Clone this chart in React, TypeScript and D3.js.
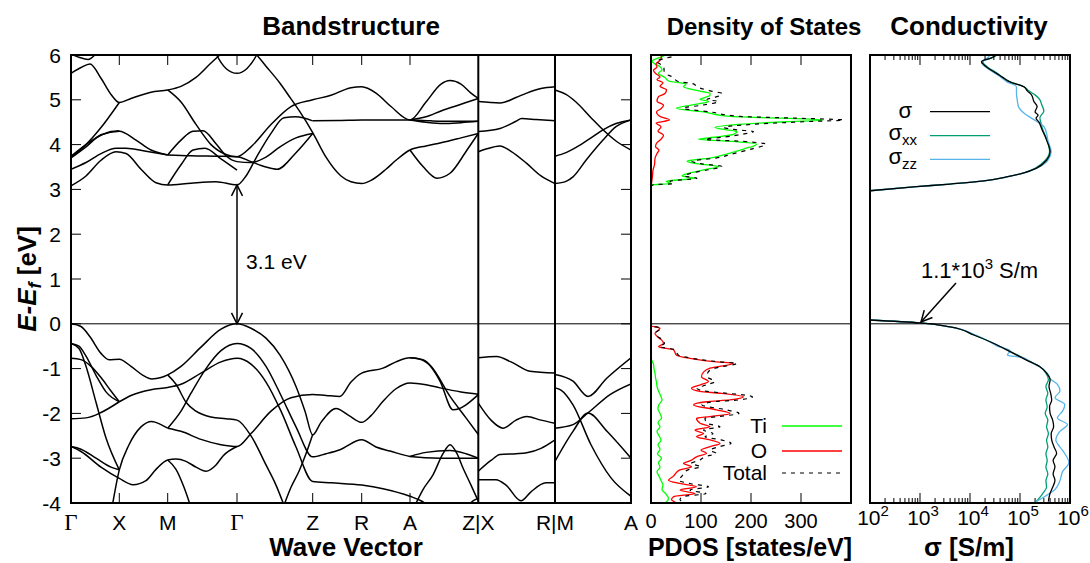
import React from "react";
import * as d3 from "d3";

const FONT = "'Liberation Sans', Arial, Helvetica, sans-serif";
const SERIF = "'Liberation Serif', 'Times New Roman', serif";

// ---------- axes data ----------
const kTicks = [0, 0.483, 0.967, 1.66, 2.417, 2.907, 3.39, 4.073, 4.84, 5.6];
const kLabels = ["Γ", "X", "M", "Γ", "Z", "R", "A", "Z|X", "R|M", "A"];
const kInnerTicks = [0.483, 0.967, 1.66, 2.417, 2.907, 3.39];
const kSeparators = [4.073, 4.84];
const eTicks = [-4, -3, -2, -1, 0, 1, 2, 3, 4, 5, 6];
const dosTicks = [0, 100, 200, 300];
const sigmaDecades = [2, 3, 4, 5, 6];

// ---------- band structure (k, E[eV]) ----------
const conductionBands: number[][][] = [
  [[0,5.59],[0.1,5.72],[0.19,5.8],[0.3,5.48],[0.4,5.12],[0.483,4.94],[0.6,5.03],[0.8,5.17],[0.967,5.22],[1.1,5.3],[1.25,5.5],[1.4,5.82],[1.55,6.12],[1.66,6.3],[1.76,6.2],[1.857,6.0],[1.95,5.75],[2.09,5.37],[2.2,5.02],[2.29,4.73],[2.417,4.27],[2.55,3.72],[2.7,3.3],[2.8,3.17],[2.907,3.13],[3.0,3.2],[3.15,3.45],[3.25,3.65],[3.39,3.88],[3.55,3.97],[3.7,4.04],[3.9,4.15],[4.073,4.25]],
  [[0,6.02],[0.08,5.95],[0.17,5.9],[0.26,6.05],[0.32,6.2]],
  [[1.4,6.3],[1.457,6.0],[1.55,5.7],[1.66,5.59],[1.76,5.7],[1.857,6.0],[1.92,6.3]],
  [[0,3.72],[0.15,4.0],[0.3,4.38],[0.483,4.94]],
  [[0.967,5.22],[1.1,4.95],[1.25,4.45],[1.4,4.0],[1.55,3.78],[1.66,3.73],[1.8,3.95],[2.0,4.45],[2.2,4.85],[2.417,5.0],[2.6,5.1],[2.8,5.27],[2.907,5.29],[3.05,5.15],[3.2,4.85],[3.39,4.55],[3.55,4.95],[3.7,5.35],[3.79,5.43],[3.9,5.35],[4.0,5.15],[4.073,5.03]],
  [[3.39,4.55],[3.55,4.62],[3.7,4.75],[3.9,4.9],[4.073,5.03]],
  [[2.417,4.53],[2.7,4.54],[2.907,4.55],[3.2,4.55],[3.39,4.55],[3.6,4.53],[3.8,4.52],[4.073,4.52]],
  [[3.39,4.55],[3.55,4.5],[3.72,4.47],[3.9,4.49],[4.073,4.52]],
  [[3.39,3.88],[3.52,3.51],[3.66,3.25],[3.79,3.36],[3.96,3.88],[4.073,4.25]],
  [[0,3.08],[0.15,3.3],[0.3,3.65],[0.45,3.84],[0.55,3.8],[0.7,3.45],[0.85,3.15],[0.967,3.1],[1.2,3.14],[1.45,3.17],[1.66,3.1],[1.75,3.3],[1.85,3.7],[2.0,4.25],[2.13,4.6],[2.25,4.62],[2.417,4.53]],
  [[0,3.7],[0.15,3.95],[0.3,4.22],[0.483,4.3],[0.65,4.1],[0.8,3.88],[0.967,3.77]],
  [[0,3.74],[0.2,4.08],[0.4,4.29],[0.483,4.31]],
  [[0,3.45],[0.15,3.6],[0.3,3.8],[0.45,3.92],[0.55,3.92],[0.75,3.85],[0.967,3.77]],
  [[0.967,3.77],[1.2,3.75],[1.45,3.74],[1.66,3.73],[1.8,3.62],[1.95,3.5],[2.06,3.45],[2.25,3.82],[2.417,4.25]],
  [[0.967,3.77],[1.1,4.1],[1.22,4.3],[1.32,4.31],[1.45,4.02],[1.55,3.75],[1.66,3.62],[1.8,3.6],[1.95,3.72],[2.09,3.95],[2.25,4.15],[2.417,4.25]],
  [[0.967,3.1],[1.1,3.55],[1.22,3.88],[1.34,3.92],[1.5,3.68],[1.66,3.43]],
  [[4.073,4.96],[4.29,4.93],[4.45,5.05],[4.557,5.15],[4.7,5.25],[4.84,5.29]],
  [[4.073,4.29],[4.29,4.36],[4.45,4.52],[4.507,4.58],[4.65,4.56],[4.84,4.53]],
  [[4.073,3.84],[4.15,3.9],[4.29,3.97],[4.4,3.85],[4.557,3.58],[4.7,3.3],[4.84,3.13]],
  [[4.84,5.22],[4.95,5.12],[5.05,4.95],[5.2,4.6],[5.32,4.33],[5.45,4.08],[5.6,3.88]],
  [[4.84,3.74],[4.95,3.82],[5.09,3.99],[5.2,4.15],[5.32,4.33],[5.45,4.47],[5.6,4.55]],
  [[4.84,3.13],[4.95,3.18],[5.02,3.28],[5.15,3.65],[5.32,4.1],[5.45,4.4],[5.6,4.55]],
];

const valenceBands: number[][][] = [
  [[0,0],[0.1,-0.06],[0.19,-0.29],[0.3,-0.66],[0.38,-0.8],[0.483,-0.79],[0.6,-0.95],[0.72,-1.15],[0.807,-1.23],[0.9,-1.2],[0.967,-1.14],[1.1,-0.95],[1.3,-0.52],[1.5,-0.12],[1.66,0],[1.8,-0.1],[1.95,-0.32],[2.09,-0.7],[2.25,-1.4],[2.34,-1.95],[2.417,-2.48],[2.5,-2.2],[2.65,-1.89],[2.78,-2.05],[2.907,-2.2],[3.0,-2.05],[3.12,-1.73],[3.25,-1.45],[3.39,-1.32],[3.55,-1.36],[3.69,-1.43],[3.9,-1.52],[4.073,-1.57]],
  [[0.967,-2.33],[1.1,-1.95],[1.2,-1.55],[1.35,-1.0],[1.5,-0.6],[1.66,-0.44],[1.8,-0.55],[1.95,-0.95],[2.1,-1.6],[2.25,-2.3],[2.417,-2.97],[2.55,-2.9],[2.69,-2.81],[2.907,-2.59],[3.05,-2.75],[3.19,-2.84],[3.39,-2.96],[3.69,-3.0],[4.073,-3.0]],
  [[0.483,-1.74],[0.6,-1.6],[0.8,-1.47],[0.967,-1.42],[1.1,-1.35],[1.3,-1.1],[1.5,-0.85],[1.66,-0.77],[1.8,-0.9],[1.95,-1.3],[2.1,-1.95],[2.25,-2.75],[2.417,-3.52],[2.6,-3.55],[2.907,-3.6],[3.12,-3.68],[3.39,-3.85],[3.5,-3.95],[3.6,-4.1]],
  [[0,-0.44],[0.08,-0.5],[0.15,-0.72],[0.25,-1.15],[0.35,-1.52],[0.483,-1.74]],
  [[0,-0.77],[0.1,-0.8],[0.2,-0.95],[0.3,-1.2],[0.4,-1.5],[0.483,-1.74]],
  [[0,-0.44],[0.08,-0.55],[0.15,-0.95],[0.25,-1.75],[0.35,-2.55],[0.483,-3.26]],
  [[0.41,-4.1],[0.483,-3.26],[0.58,-2.7],[0.7,-2.3],[0.807,-2.18],[0.9,-2.25],[0.967,-2.33]],
  [[0,-2.12],[0.15,-2.1],[0.3,-1.98],[0.483,-1.74]],
  [[0.967,-2.33],[1.1,-2.4],[1.3,-2.58],[1.5,-2.7],[1.66,-2.74],[1.8,-2.45],[2.0,-1.95],[2.2,-1.65],[2.417,-1.58],[2.55,-1.6],[2.69,-1.62],[2.8,-1.3],[2.907,-1.1],[3.12,-0.99],[3.25,-0.85],[3.39,-0.76],[3.52,-0.8],[3.69,-1.28],[3.82,-1.92],[4.073,-1.58]],
  [[3.39,-0.76],[3.5,-0.8],[3.6,-0.95],[3.79,-1.62],[3.95,-2.1],[4.073,-2.47]],
  [[0.967,-1.14],[1.05,-1.35],[1.15,-1.75],[1.25,-1.95],[1.4,-2.08],[1.55,-2.12],[1.66,-2.15],[1.8,-2.5],[1.95,-3.15],[2.05,-3.6],[2.13,-4.05]],
  [[2.13,-4.05],[2.2,-3.65],[2.28,-3.29],[2.35,-2.9],[2.417,-2.47]],
  [[0,-2.74],[0.1,-2.8],[0.25,-3.0],[0.4,-3.2],[0.483,-3.26]],
  [[0,-2.74],[0.1,-2.85],[0.3,-3.2],[0.483,-3.45],[0.62,-3.59],[0.75,-3.5],[0.85,-3.25],[0.967,-3.04],[1.05,-3.02],[1.15,-3.07],[1.25,-3.2],[1.35,-3.29],[1.45,-3.15],[1.52,-2.95],[1.66,-2.74]],
  [[0.967,-3.04],[1.05,-3.25],[1.13,-3.65],[1.2,-4.1]],
  [[3.43,-4.1],[3.52,-3.7],[3.62,-3.37],[3.72,-2.9],[3.79,-2.7],[3.86,-2.9],[3.92,-3.22],[4.0,-3.6],[4.073,-3.96]],
  [[3.39,-2.96],[3.55,-2.87],[3.79,-2.83],[3.95,-2.9],[4.073,-3.0]],
  [[3.95,-4.1],[4.02,-3.95],[4.073,-3.9]],
  [[4.073,-0.76],[4.257,-0.73],[4.4,-0.85],[4.59,-1.06],[4.84,-1.1]],
  [[4.073,-1.77],[4.2,-2.15],[4.32,-2.33],[4.45,-2.15],[4.557,-2.07],[4.7,-2.15],[4.84,-2.22]],
  [[4.073,-3.29],[4.2,-3.05],[4.29,-2.92],[4.45,-2.9],[4.557,-2.88],[4.7,-2.78],[4.84,-2.59]],
  [[4.073,-3.48],[4.25,-3.48],[4.35,-3.6],[4.5,-3.95],[4.6,-3.75],[4.75,-3.55],[4.84,-3.55]],
  [[4.84,-1.13],[5.02,-1.28],[5.17,-1.62],[5.36,-1.21],[5.6,-0.76]],
  [[4.84,-1.43],[4.9,-1.48],[5.02,-1.81],[5.2,-2.7],[5.4,-3.44],[5.6,-3.85]],
  [[4.84,-2.33],[5.02,-2.25],[5.17,-1.99],[5.39,-1.58],[5.6,-1.34]],
  [[4.84,-3.07],[5.02,-2.4],[5.17,-1.99],[5.36,-2.4],[5.6,-3.0]],
];

// ---------- PDOS (E[eV], states/eV) ----------
const dosTi: number[][] = [
  [-4.05,12],[-4.0,28],[-3.9,35],[-3.8,30],[-3.7,22],[-3.6,24],[-3.5,20],[-3.4,16],[-3.3,12],[-3.2,18],[-3.1,15],[-3.0,21],[-2.9,13],[-2.8,18],[-2.7,14],[-2.6,20],[-2.5,16],[-2.4,12],[-2.3,18],[-2.2,14],[-2.1,21],[-2.0,18],[-1.9,14],[-1.8,16],[-1.7,22],[-1.6,19],[-1.5,15],[-1.4,12],[-1.3,11],[-1.2,9],[-1.1,8],[-1.0,6],[-0.9,5],[-0.8,1],[-0.7,0],[0.05,0],
  [3.05,0],[3.1,2],[3.13,40],[3.18,30],[3.25,88],[3.3,62],[3.36,75],[3.44,108],[3.51,135],[3.57,95],[3.63,72],[3.7,118],[3.79,151],[3.9,185],[4.01,211],[4.07,165],[4.12,95],[4.17,130],[4.23,165],[4.29,172],[4.33,150],[4.38,128],[4.45,175],[4.51,270],[4.55,345],[4.59,260],[4.63,158],[4.73,105],[4.81,51],[4.88,80],[4.96,115],[5.01,98],[5.05,108],[5.1,118],[5.14,118],[5.2,96],[5.29,65],[5.35,70],[5.42,35],[5.5,28],[5.59,15],[5.67,22],[5.74,18],[5.8,8],[5.86,2],[5.93,14],[5.98,25],[6.05,10],
];
const dosO: number[][] = [
  [-4.05,45],[-4.0,50],[-3.93,41],[-3.86,45],[-3.79,88],[-3.71,58],[-3.64,91],[-3.57,60],[-3.49,35],[-3.4,45],[-3.33,50],[-3.26,58],[-3.19,81],[-3.12,65],[-3.05,80],[-2.97,91],[-2.89,111],[-2.82,100],[-2.74,118],[-2.67,138],[-2.59,118],[-2.52,91],[-2.45,105],[-2.37,88],[-2.3,118],[-2.22,98],[-2.11,91],[-2.07,118],[-2.0,158],[-1.92,131],[-1.81,85],[-1.74,111],[-1.7,158],[-1.63,185],[-1.55,138],[-1.51,98],[-1.44,81],[-1.36,100],[-1.29,115],[-1.18,101],[-1.08,105],[-0.99,118],[-0.88,165],[-0.85,131],[-0.77,78],[-0.7,51],[-0.58,45],[-0.51,15],[-0.44,25],[-0.36,21],[-0.28,12],[-0.21,8],[-0.1,18],[-0.04,0],[0.05,0],
  [3.05,0],[3.13,1],[3.3,3],[3.43,4],[3.55,7],[3.69,8],[3.8,12],[3.88,16],[3.95,9],[4.03,11],[4.12,20],[4.21,25],[4.3,14],[4.4,20],[4.48,10],[4.55,37],[4.62,20],[4.73,11],[4.8,20],[4.88,25],[4.97,12],[5.07,15],[5.14,28],[5.22,31],[5.3,18],[5.38,24],[5.45,12],[5.51,18],[5.58,10],[5.66,5],[5.73,12],[5.8,10],[5.88,18],[5.96,21],[6.05,10],
];
const dosTotal: number[][] = [
  [-4.05,60],[-4.0,68],[-3.93,58],[-3.86,62],[-3.79,110],[-3.71,78],[-3.64,115],[-3.57,80],[-3.49,55],[-3.4,62],[-3.33,66],[-3.26,74],[-3.19,100],[-3.12,80],[-3.05,96],[-2.97,108],[-2.89,130],[-2.82,118],[-2.74,138],[-2.67,160],[-2.59,140],[-2.52,108],[-2.45,124],[-2.37,105],[-2.3,138],[-2.22,112],[-2.11,108],[-2.07,135],[-2.0,176],[-1.92,150],[-1.81,102],[-1.74,125],[-1.7,175],[-1.63,203],[-1.55,152],[-1.51,112],[-1.44,92],[-1.36,112],[-1.29,128],[-1.18,112],[-1.08,114],[-0.99,128],[-0.88,172],[-0.85,138],[-0.77,82],[-0.7,55],[-0.58,48],[-0.51,17],[-0.44,27],[-0.36,23],[-0.28,13],[-0.21,9],[-0.1,20],[-0.04,1],[0.05,0],
  [3.05,0],[3.1,3],[3.13,45],[3.18,38],[3.25,92],[3.3,66],[3.36,80],[3.44,116],[3.51,142],[3.57,102],[3.63,82],[3.7,130],[3.79,162],[3.9,200],[4.01,230],[4.07,185],[4.12,108],[4.17,148],[4.23,182],[4.29,205],[4.33,172],[4.38,146],[4.45,200],[4.51,305],[4.55,385],[4.59,290],[4.63,178],[4.73,118],[4.81,64],[4.88,102],[4.96,135],[5.01,112],[5.05,125],[5.1,140],[5.14,142],[5.2,118],[5.29,92],[5.35,86],[5.42,52],[5.5,45],[5.59,28],[5.67,26],[5.74,26],[5.8,18],[5.86,10],[5.93,30],[5.98,45],[6.05,20],
];

// ---------- conductivity (E[eV], sigma [S/m]) ----------
const sigmaTotalCB: number[][] = [
  [2.97,1.0e2],[3.06,8.5e2],[3.12,4.0e3],[3.19,1.9e4],[3.28,5.4e4],[3.37,1.2e5],[3.47,2.1e5],[3.65,3.4e5],[3.84,4.0e5],[4.1,3.4e5],[4.36,2.7e5],[4.5,2.4e5],[4.59,2.1e5],[4.66,2.3e5],[4.73,2.0e5],[4.85,2.2e5],[4.96,1.9e5],[5.11,1.7e5],[5.2,1.4e5],[5.29,1.2e5],[5.4,6.3e4],[5.5,4.5e4],[5.59,3.4e4],[5.74,2.1e4],[5.85,1.7e4],[5.93,2.6e4],[6.0,3.4e4],
];
const sigmaTotalVB: number[][] = [
  [0.085,1.0e2],[0.02,1.0e3],[-0.07,4.0e3],[-0.25,1.2e4],[-0.44,3.0e4],[-0.62,6.3e4],[-0.81,1.35e5],[-0.96,2.5e5],[-1.1,3.4e5],[-1.25,4.0e5],[-1.4,3.8e5],[-1.55,4.1e5],[-1.7,4.3e5],[-1.85,3.9e5],[-2.0,4.0e5],[-2.15,4.5e5],[-2.3,4.7e5],[-2.45,4.2e5],[-2.59,4.3e5],[-2.75,4.8e5],[-2.89,5.4e5],[-3.05,4.6e5],[-3.19,5.0e5],[-3.35,4.6e5],[-3.49,5.0e5],[-3.65,4.5e5],[-3.78,4.0e5],[-3.97,3.7e5],
];
const sigmaXxCB: number[][] = [
  [2.97,1.0e2],[3.06,8.5e2],[3.12,4.0e3],[3.19,1.9e4],[3.28,5.4e4],[3.37,1.2e5],[3.47,2.0e5],[3.65,3.2e5],[3.84,3.9e5],[4.1,3.5e5],[4.36,2.8e5],[4.5,2.6e5],[4.6,2.5e5],[4.75,3.0e5],[4.9,2.7e5],[5.0,2.5e5],[5.11,2.0e5],[5.2,1.5e5],[5.29,1.2e5],[5.4,6.3e4],[5.5,4.5e4],[5.59,3.5e4],[5.74,2.2e4],[5.85,1.8e4],[5.93,2.7e4],[6.0,3.5e4],
];
const sigmaXxVB: number[][] = [
  [0.085,1.0e2],[0.02,1.0e3],[-0.07,4.0e3],[-0.25,1.2e4],[-0.44,3.0e4],[-0.62,6.5e4],[-0.81,1.4e5],[-0.96,2.5e5],[-1.1,3.3e5],[-1.25,3.7e5],[-1.4,3.3e5],[-1.55,3.6e5],[-1.7,3.3e5],[-1.85,3.5e5],[-2.0,3.2e5],[-2.15,3.6e5],[-2.3,3.4e5],[-2.45,3.7e5],[-2.6,3.4e5],[-2.75,3.6e5],[-2.9,3.3e5],[-3.05,3.5e5],[-3.2,3.3e5],[-3.35,3.6e5],[-3.5,3.3e5],[-3.65,3.4e5],[-3.8,2.8e5],[-3.97,2.1e5],
];
const sigmaZzCB: number[][] = [
  [2.97,1.0e2],[3.06,8.5e2],[3.12,4.0e3],[3.19,1.9e4],[3.28,5.4e4],[3.37,1.2e5],[3.47,2.1e5],[3.65,3.6e5],[3.84,4.2e5],[4.1,3.6e5],[4.25,3.4e5],[4.4,3.0e5],[4.59,1.7e5],[4.66,1.35e5],[4.85,9.3e4],[5.0,8.8e4],[5.14,8.5e4],[5.29,8.5e4],[5.4,5.5e4],[5.5,4.2e4],[5.59,3.2e4],[5.74,2.0e4],[5.85,1.7e4],[5.93,2.2e4],[6.0,2.5e4],
];
const sigmaZzVB: number[][] = [
  [0.085,1.0e2],[0.02,1.0e3],[-0.07,4.0e3],[-0.25,1.3e4],[-0.4,2.5e4],[-0.5,3.5e4],[-0.6,6.3e4],[-0.7,5.6e4],[-0.75,1.1e5],[-0.85,1.6e5],[-0.96,2.5e5],[-1.1,3.5e5],[-1.25,4.2e5],[-1.35,5.6e5],[-1.5,6.3e5],[-1.65,5.0e5],[-1.8,7.9e5],[-1.95,7.1e5],[-2.1,5.6e5],[-2.25,8.9e5],[-2.4,6.3e5],[-2.6,5.2e5],[-2.75,6.3e5],[-2.9,7.9e5],[-3.1,9.5e5],[-3.3,7.1e5],[-3.5,6.3e5],[-3.7,5.0e5],[-3.85,3.2e5],[-3.97,2.1e5],
];

// ---------- scales ----------
const xB = d3.scaleLinear().domain([0, 5.6]).range([71, 631]);
const yE = d3.scaleLinear().domain([-4, 6]).range([503, 55]);
const xD = d3.scaleLinear().domain([0, 400]).range([651, 851]);
const xS = d3.scaleLog().domain([1e2, 1e6]).range([870, 1070]);

const bandLine = d3.line<number[]>().x(d => xB(d[0])).y(d => yE(d[1])).curve(d3.curveMonotoneX);
const dosLine = d3.line<number[]>().x(d => xD(d[1])).y(d => yE(d[0])).curve(d3.curveMonotoneY);
const sigLine = d3.line<number[]>().x(d => xS(d[1])).y(d => yE(d[0])).curve(d3.curveMonotoneY);

const sortE = (a: number[][]) => [...a].sort((p, q) => p[0] - q[0]);
const splitGap = (a: number[][]) => {
  const s = sortE(a);
  return [s.filter(p => p[0] < 1), s.filter(p => p[0] >= 1)];
};

export default function App() {
  const top = 55, bot = 503;
  const y0 = yE(0);
  const minor: number[] = [];
  for (let dd = 2; dd < 6; dd++) for (let m = 2; m <= 9; m++) minor.push(m * Math.pow(10, dd));

  const arrowHead = (tx: number, ty: number, ang: number) => {
    const L = 11, Wd = 5.5;
    const bx = tx - L * Math.cos(ang), by = ty - L * Math.sin(ang);
    const px = -Math.sin(ang) * Wd, py = Math.cos(ang) * Wd;
    return `M${bx + px},${by + py}L${tx},${ty}L${bx - px},${by - py}`;
  };

  return (
    <svg width={1090} height={563} style={{ position: "absolute", left: 0, top: 0, background: "#fff" }} fontFamily={FONT}>
      <defs>
        <clipPath id="cb"><rect x={71} y={top} width={560} height={bot - top} /></clipPath>
        <clipPath id="cd"><rect x={651} y={top} width={200} height={bot - top} /></clipPath>
        <clipPath id="cs"><rect x={870} y={top} width={200} height={bot - top} /></clipPath>
      </defs>
      <rect width={1090} height={563} fill="#fff" />

      {/* titles */}
      <g fontWeight="bold" textAnchor="middle">
        <text x={351} y={35} fontSize={26}>Bandstructure</text>
        <text x={764} y={35} fontSize={24}>Density of States</text>
        <text x={969} y={35} fontSize={26}>Conductivity</text>
      </g>

      {/* ===== band structure ===== */}
      <g clipPath="url(#cb)" fill="none" stroke="#000" strokeWidth={1.5}>
        {conductionBands.map((b, i) => <path key={"c" + i} d={bandLine(b) || ""} />)}
        {valenceBands.map((b, i) => <path key={"v" + i} d={bandLine(b) || ""} />)}
      </g>
      <line x1={71} x2={631} y1={y0} y2={y0} stroke="#000" strokeWidth={1} />
      <g stroke="#000" strokeWidth={1}>
        {eTicks.map(t => <line key={"l" + t} x1={71} x2={81} y1={yE(t)} y2={yE(t)} />)}
        {eTicks.map(t => <line key={"r" + t} x1={621} x2={631} y1={yE(t)} y2={yE(t)} />)}
        {kInnerTicks.map(k => <line key={"t" + k} x1={xB(k)} x2={xB(k)} y1={top} y2={top + 10} />)}
        {kInnerTicks.map(k => <line key={"b" + k} x1={xB(k)} x2={xB(k)} y1={bot} y2={bot - 10} />)}
      </g>
      {kSeparators.map(k => <line key={"s" + k} x1={xB(k)} x2={xB(k)} y1={top} y2={bot} stroke="#000" strokeWidth={2} />)}
      <rect x={71} y={top} width={560} height={bot - top} fill="none" stroke="#000" strokeWidth={2} />
      <g fontSize={21} textAnchor="end">
        {eTicks.map(t => <text key={"yl" + t} x={61} y={yE(t) + 7.5}>{t}</text>)}
      </g>
      <g textAnchor="middle">
        {kLabels.map((l, i) => (
          <text key={"kl" + i} x={xB(kTicks[i])} y={530} fontFamily={l === "Γ" ? SERIF : FONT} fontSize={l === "Γ" ? 23 : 21}>{l}</text>
        ))}
      </g>
      <g stroke="#000" strokeWidth={1.5} fill="none">
        <line x1={xB(1.66)} x2={xB(1.66)} y1={yE(0)} y2={yE(3.1)} />
        <path d={arrowHead(xB(1.66), yE(3.1), -Math.PI / 2)} />
        <path d={arrowHead(xB(1.66), yE(0), Math.PI / 2)} />
      </g>
      <text x={246} y={269} fontSize={21}>3.1 eV</text>
      <text x={346} y={556} fontSize={26} fontWeight="bold" textAnchor="middle">Wave Vector</text>
      <text transform={`translate(36,279) rotate(-90)`} fontSize={26} fontWeight="bold" textAnchor="middle">
        <tspan fontStyle="italic">E-E</tspan>
        <tspan fontStyle="italic" fontSize={18} dy={5}>f</tspan>
        <tspan dy={-5}> [eV]</tspan>
      </text>

      {/* ===== DOS ===== */}
      <g clipPath="url(#cd)" fill="none" strokeWidth={1.3}>
        {splitGap(dosTi).map((s, i) => <path key={"ti" + i} d={dosLine(s) || ""} stroke="#00ff00" />)}
        {splitGap(dosO).map((s, i) => <path key={"o" + i} d={dosLine(s) || ""} stroke="#ff0000" />)}
        {splitGap(dosTotal).map((s, i) => <path key={"tt" + i} d={dosLine(s) || ""} stroke="#000" strokeDasharray="4,5" strokeWidth={1.2} />)}
      </g>
      <line x1={651} x2={851} y1={y0} y2={y0} stroke="#000" strokeWidth={1} />
      <g stroke="#000" strokeWidth={1}>
        {dosTicks.slice(1).map(t => <line key={"dt" + t} x1={xD(t)} x2={xD(t)} y1={top} y2={top + 10} />)}
        {dosTicks.slice(1).map(t => <line key={"db" + t} x1={xD(t)} x2={xD(t)} y1={bot} y2={bot - 10} />)}
      </g>
      <rect x={651} y={top} width={200} height={bot - top} fill="none" stroke="#000" strokeWidth={2} />
      <g fontSize={20} textAnchor="middle">
        {dosTicks.map(t => <text key={"dl" + t} x={xD(t)} y={528}>{t}</text>)}
      </g>
      <g fontSize={21} textAnchor="end">
        <text x={767} y={433}>Ti</text>
        <text x={767} y={458}>O</text>
        <text x={767} y={480}>Total</text>
      </g>
      <line x1={782} x2={842} y1={426} y2={426} stroke="#00ff00" strokeWidth={1.3} />
      <line x1={782} x2={842} y1={451} y2={451} stroke="#ff0000" strokeWidth={1.3} />
      <line x1={782} x2={842} y1={473} y2={473} stroke="#000" strokeWidth={1.2} strokeDasharray="4,5" />
      <text x={750} y={556} fontSize={25} fontWeight="bold" textAnchor="middle">PDOS [states/eV]</text>

      {/* ===== Conductivity ===== */}
      <g clipPath="url(#cs)" fill="none" strokeWidth={1.3}>
        {[sigmaXxCB, sigmaXxVB].map((s, i) => <path key={"xx" + i} d={sigLine(sortE(s)) || ""} stroke="#009e73" />)}
        {[sigmaZzCB, sigmaZzVB].map((s, i) => <path key={"zz" + i} d={sigLine(sortE(s)) || ""} stroke="#56b4e9" />)}
        {[sigmaTotalCB, sigmaTotalVB].map((s, i) => <path key={"st" + i} d={sigLine(sortE(s)) || ""} stroke="#000" />)}
      </g>
      <line x1={870} x2={1070} y1={y0} y2={y0} stroke="#000" strokeWidth={1} />
      <g stroke="#000" strokeWidth={1}>
        {sigmaDecades.slice(1, -1).map(d => <line key={"st" + d} x1={xS(Math.pow(10, d))} x2={xS(Math.pow(10, d))} y1={top} y2={top + 10} />)}
        {sigmaDecades.slice(1, -1).map(d => <line key={"sb" + d} x1={xS(Math.pow(10, d))} x2={xS(Math.pow(10, d))} y1={bot} y2={bot - 10} />)}
        {minor.map(v => <line key={"mt" + v} x1={xS(v)} x2={xS(v)} y1={top} y2={top + 5} />)}
        {minor.map(v => <line key={"mb" + v} x1={xS(v)} x2={xS(v)} y1={bot} y2={bot - 5} />)}
      </g>
      <rect x={870} y={top} width={200} height={bot - top} fill="none" stroke="#000" strokeWidth={2} />
      <g fontSize={21} textAnchor="middle">
        {sigmaDecades.map(d => (
          <text key={"sl" + d} x={xS(Math.pow(10, d)) + 3} y={525}>10<tspan fontSize={15} dy={-9}>{d}</tspan></text>
        ))}
      </g>
      <g fontSize={22} textAnchor="end">
        <text x={912} y={118}>σ</text>
        <text x={917} y={140}>σ<tspan fontSize={15} dy={5}>xx</tspan></text>
        <text x={917} y={164}>σ<tspan fontSize={15} dy={5}>zz</tspan></text>
      </g>
      <line x1={930} x2={990} y1={111.7} y2={111.7} stroke="#000" strokeWidth={1.3} />
      <line x1={930} x2={990} y1={135.7} y2={135.7} stroke="#009e73" strokeWidth={1.3} />
      <line x1={930} x2={990} y1={159.3} y2={159.3} stroke="#56b4e9" strokeWidth={1.3} />
      <text x={921} y={278} fontSize={22}>1.1*10<tspan fontSize={15} dy={-9}>3</tspan><tspan dy={9}> S/m</tspan></text>
      <g stroke="#000" strokeWidth={1.5} fill="none">
        <line x1={956} y1={283} x2={921} y2={322} />
        <path d={arrowHead(921, 322, Math.atan2(322 - 283, 921 - 956))} />
      </g>
      <text x={969} y={556} fontSize={26} fontWeight="bold" textAnchor="middle">σ [S/m]</text>
    </svg>
  );
}
